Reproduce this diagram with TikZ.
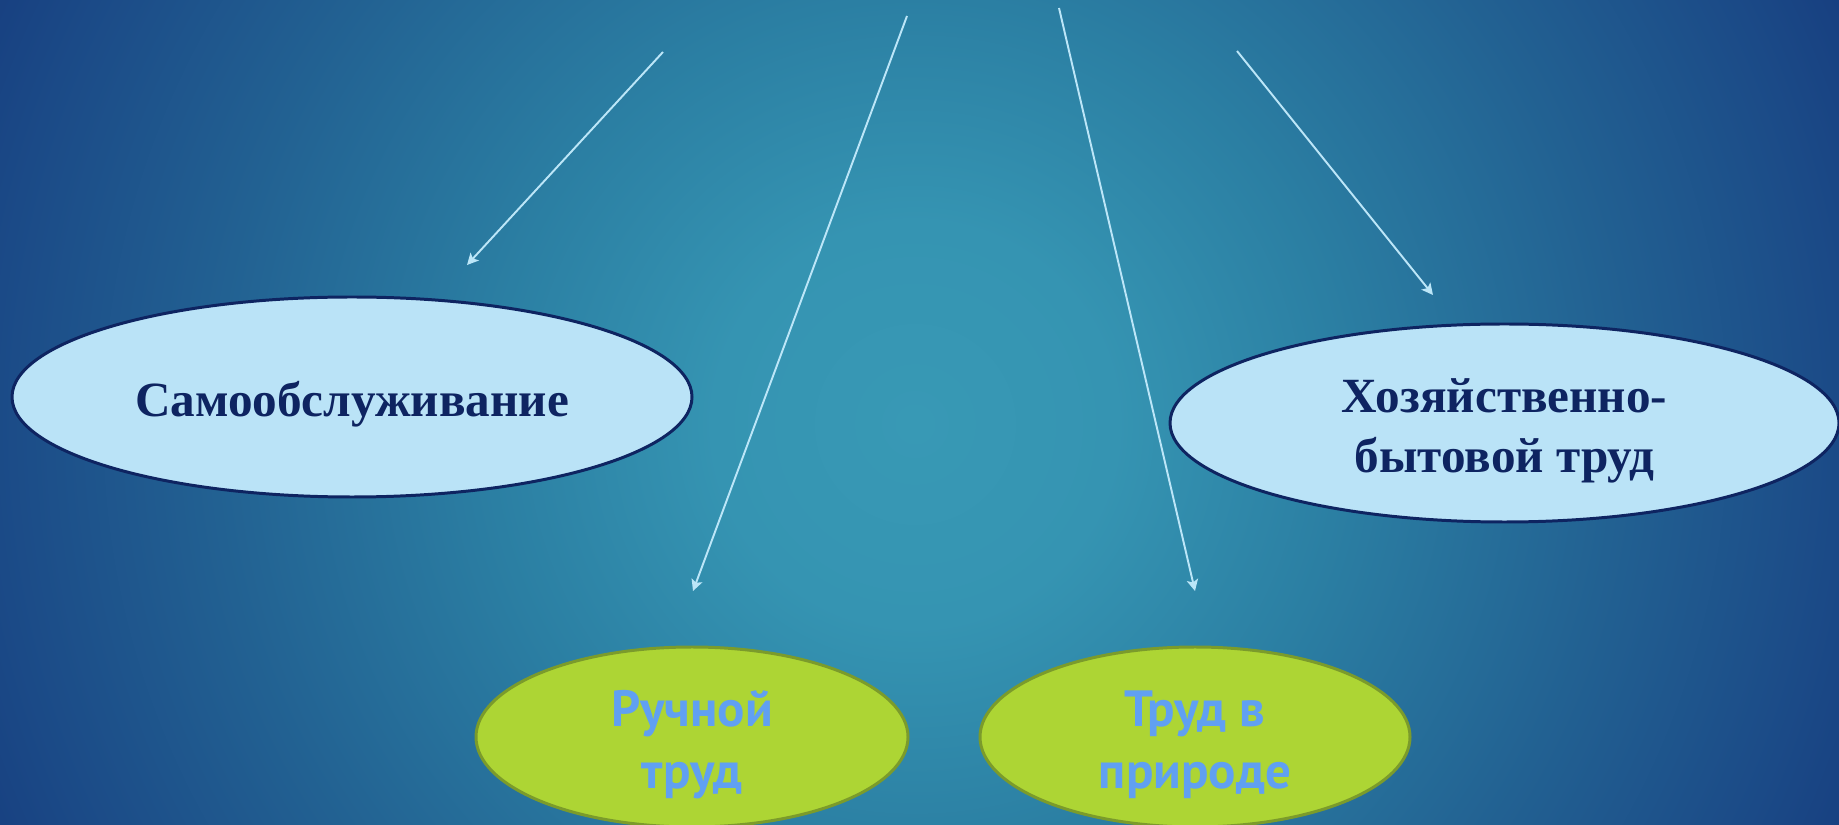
\documentclass[tikz,border=0pt]{standalone}
\usepackage{fontspec}
\setmainfont{Liberation Serif}
\newfontfamily\gothfont{PT Sans}
\usetikzlibrary{arrows.meta,shapes.geometric}

\definecolor{bgin}{HTML}{3899B5}
\definecolor{bgnear}{HTML}{3594B2}
\definecolor{bgmid}{HTML}{2B7FA3}
\definecolor{bgfar}{HTML}{226192}
\definecolor{bgout}{HTML}{1B4A87}
\definecolor{bgcorner}{HTML}{173F80}
\definecolor{ovalblue}{HTML}{BAE3F7}
\definecolor{navytext}{HTML}{0E2461}
\definecolor{ovalgreen}{HTML}{ADD534}
\definecolor{greenedge}{HTML}{7B9B2B}
\definecolor{greentext}{HTML}{60A0F2}
\definecolor{arrowblue}{HTML}{BCE6F8}

% radii in bp, 1cm = 28.45bp
\pgfdeclareradialshading{slidebg}{\pgfpoint{0bp}{0bp}}{color(0bp)=(bgin); color(114bp)=(bgnear); color(242bp)=(bgmid); color(398bp)=(bgfar); color(523bp)=(bgout); color(580bp)=(bgcorner)}

% pushes the first line of an oval down a little
\newcommand\ovalstrut{\rule{0pt}{1em}}

\tikzset{
	blueoval/.style={ellipse, draw=navytext, line width=1.7pt, fill=ovalblue, text=navytext, font=\fontsize{28}{34}\selectfont\bfseries, align=center, inner sep=0pt},
	greenoval/.style={ellipse, draw=greenedge, line width=1.7pt, fill=ovalgreen, text=greentext, font=\gothfont\fontsize{29}{35}\selectfont\bfseries, align=center, inner sep=0pt},
	pointer/.style={draw=arrowblue, line width=1.1pt, -{Stealth[length=6.5pt,width=6.5pt,inset=1.5pt]}}
}

\begin{document}
\begin{tikzpicture}
			%%%%% BACKGROUND %%%%%
			
			\useasboundingbox (0, 0) rectangle (36.78, 16.48);
			\begin{scope}
				\clip (0, 0) rectangle (36.78, 16.48);
				\path (18.3, 8.0) node[inner sep=0pt] (bg) {\pgfuseshading{slidebg}};
			\end{scope}
			
			%%%%% OVALS %%%%%
			
			\node[blueoval, minimum width=13.6cm, minimum height=4cm] (samo) at (7.04, 8.54) {\ovalstrut Самообслуживание};
			\node[blueoval, minimum width=13.38cm, minimum height=3.96cm] (hoz) at (30.09, 8.02) {\ovalstrut Хозяйственно-\\бытовой труд};
			
			\node[greenoval, minimum width=8.64cm, minimum height=3.6cm] (ruch) at (13.84, 1.74) {\ovalstrut Ручной\\труд};
			\node[greenoval, minimum width=8.6cm, minimum height=3.6cm] (prir) at (23.9, 1.74) {\ovalstrut Труд в\\природе};
			
			%%%%% ARROWS %%%%%
			
			\coordinate (s1) at (13.26, 15.44);
			\coordinate (e1) at (9.34, 11.18);
			\coordinate (s2) at (18.14, 16.16);
			\coordinate (e2) at (13.86, 4.66);
			\coordinate (s3) at (21.18, 16.32);
			\coordinate (e3) at (23.9, 4.66);
			\coordinate (s4) at (24.74, 15.46);
			\coordinate (e4) at (28.66, 10.58);
			
			\draw[pointer] (s1) -- (e1);
			\draw[pointer] (s2) -- (e2);
			\draw[pointer] (s3) -- (e3);
			\draw[pointer] (s4) -- (e4);
			
			%%%%% END %%%%%
\end{tikzpicture}
\end{document}
